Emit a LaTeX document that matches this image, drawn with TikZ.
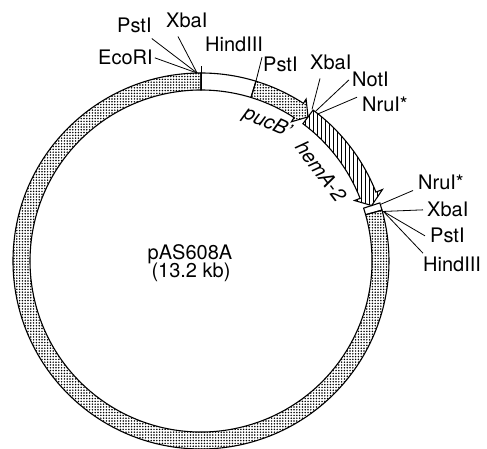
\documentclass[tikz,border=0pt]{standalone}
\usepackage{fontspec}
\setmainfont{TeX Gyre Heros}
\usetikzlibrary{patterns.meta}

\newcommand{\hemApath}{(53.4:188pt) arc[start angle=53.4,end angle=21.5,radius=188pt]
    -- (21.5:195pt) -- (18:179.5pt) -- (21.5:165pt)
    -- (21.5:171pt) arc[start angle=21.5,end angle=53.4,radius=171pt] -- cycle}

\begin{document}
\begin{tikzpicture}[x=1pt,y=1pt,
    site/.style={inner sep=0pt,anchor=base west,font=\fontsize{20}{20}\selectfont},
    gene/.style={inner sep=0pt,font=\fontsize{20}{20}\selectfont\itshape},
    ring/.style={line width=1.1pt},
    stipple/.style={pattern={Dots[distance=2.8pt,radius=.85pt]}},
    pointer/.style={line width=.8pt}]
  \useasboundingbox (-201,-188) rectangle (286,261);
  % backbone and the two genes
  \draw[ring,stipple] (90:188pt) arc[start angle=90,end angle=375.7,radius=188pt]
    -- (15.7:171pt) arc[start angle=375.7,end angle=90,radius=171pt] -- cycle;
  \draw[ring] (73:188pt) arc[start angle=73,end angle=90,radius=188pt]
    -- (90:171pt) arc[start angle=90,end angle=73,radius=171pt] -- cycle;
  \draw[ring] (15.7:188pt) arc[start angle=15.7,end angle=18,radius=188pt]
    -- (18:171pt) arc[start angle=18,end angle=15.7,radius=171pt] -- cycle;
  \draw[ring,stipple] (73:188pt) arc[start angle=73,end angle=57,radius=188pt]
    -- (57:193pt) -- (53.4:179.5pt) -- (57:166pt)
    -- (57:171pt) arc[start angle=57,end angle=73,radius=171pt] -- cycle;
  \begin{scope}
    \clip \hemApath;
    \foreach \x in {88,92,...,196}
      \draw[line width=.8pt] (\x,40) -- (\x,170);
  \end{scope}
  \draw[ring] \hemApath;
  % sites on the ring
  \coordinate (hindTop) at (90:195pt);
  \coordinate (hindBot) at (90:171pt);
  \coordinate (leftSite) at (91.2:188pt);
  \coordinate (pstSite) at (73:188pt);
  \coordinate (xbaSite) at (53.8:188pt);
  \coordinate (notSite) at (52.6:188pt);
  \coordinate (nruSite) at (51.5:188pt);
  \coordinate (nruSiteb) at (17.5:188pt);
  \coordinate (rightSite) at (15.2:189pt);
  \draw[pointer] (hindBot) -- (hindTop);
  % labels
  \node[site] (ecoRI) at (-103,196) {EcoRI};
  \node[site] (pstIa) at (-84,228) {PstI};
  \node[site] (xbaIa) at (-35,233) {XbaI};
  \node[site] (hindIIIa) at (4,209) {HindIII};
  \node[site] (pstIb) at (62,189) {PstI};
  \node[site] (xbaIb) at (109,191) {XbaI};
  \node[site] (notI) at (151,174) {NotI};
  \node[site] (nruIa) at (161,149) {NruI*};
  \node[site] (nruIb) at (217,71) {NruI*};
  \node[site] (xbaIc) at (226,44) {XbaI};
  \node[site] (pstIc) at (229,18) {PstI};
  \node[site] (hindIIIc) at (222,-11) {HindIII};
  \draw[pointer] ([xshift=2pt]ecoRI.east) -- (leftSite);
  \draw[pointer] ([yshift=-5pt]pstIa.south east) -- (leftSite);
  \draw[pointer] ([xshift=12pt,yshift=-8pt]xbaIa.south west) -- (leftSite);
  \draw[pointer] ([xshift=-1pt]pstIb.north west) -- (pstSite);
  \draw[pointer] ([xshift=10pt,yshift=-8pt]xbaIb.south west) -- (xbaSite);
  \draw[pointer] ([xshift=-3pt]notI.west) -- (notSite);
  \draw[pointer] ([xshift=-5pt]nruIa.north west) -- (nruSite);
  \draw[pointer] ([xshift=-5pt]nruIb.south west) -- (nruSiteb);
  \draw[pointer] ([xshift=-4pt]xbaIc.west) -- (rightSite);
  \draw[pointer] ([xshift=-5pt]pstIc.west) -- (rightSite);
  \draw[pointer] ([yshift=4pt]hindIIIc.north west) -- (rightSite);
  \node[gene,rotate=-24] (pucB) at (66,138) {pucB'};
  \node[gene,rotate=-53] (hemA) at (120,90) {hemA-2};
  \node[inner sep=0pt,anchor=base,font=\fontsize{20}{20}\selectfont] (plasmid) at (-11,1) {pAS608A};
  \node[inner sep=0pt,anchor=base,font=\fontsize{20}{20}\selectfont] (size) at (-10,-17) {(13.2 kb)};
\end{tikzpicture}
\end{document}
